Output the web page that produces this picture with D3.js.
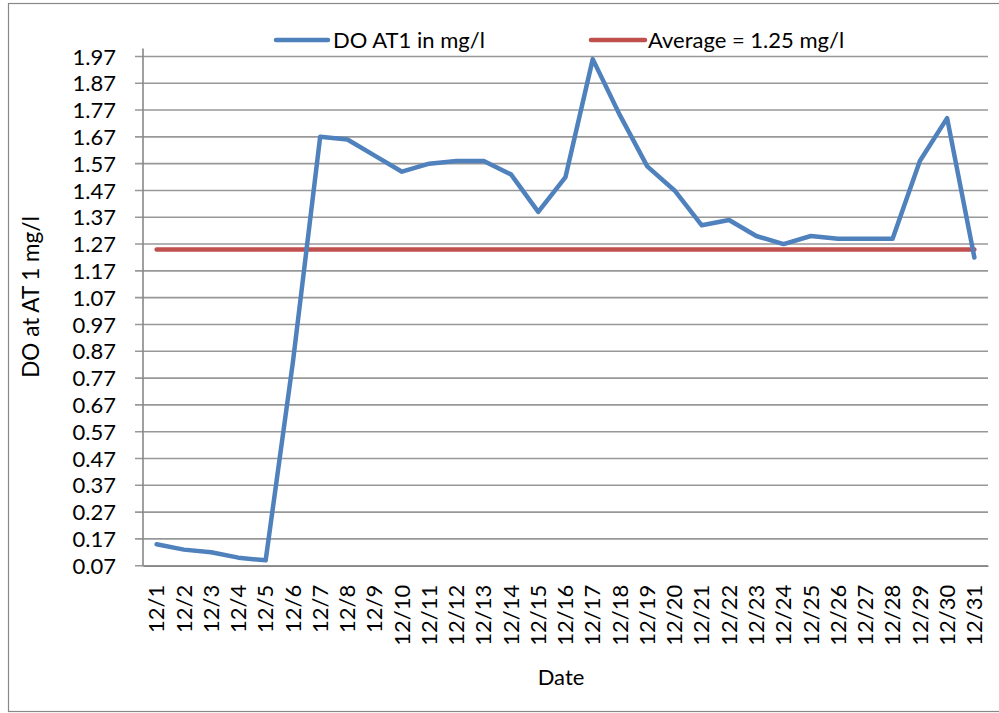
<!DOCTYPE html>
<html><head><meta charset="utf-8">
<script src="https://cdn.jsdelivr.net/npm/d3@7"></script>
<style>body{margin:0;background:#fff;} text{font-family:Lato,"Open Sans",sans-serif;fill:#000;}</style>
</head><body>
<svg id="c" width="999" height="713"></svg>
<script>
const dates = ["12/1","12/2","12/3","12/4","12/5","12/6","12/7","12/8","12/9","12/10","12/11","12/12","12/13","12/14","12/15","12/16","12/17","12/18","12/19","12/20","12/21","12/22","12/23","12/24","12/25","12/26","12/27","12/28","12/29","12/30","12/31"];
const doValues = [0.15,0.13,0.12,0.10,0.09,0.83,1.67,1.66,1.60,1.54,1.57,1.58,1.58,1.53,1.39,1.52,1.96,1.75,1.56,1.47,1.34,1.36,1.30,1.27,1.30,1.29,1.29,1.29,1.58,1.74,1.22];
const average = 1.25;
const yTicks = [0.07,0.17,0.27,0.37,0.47,0.57,0.67,0.77,0.87,0.97,1.07,1.17,1.27,1.37,1.47,1.57,1.67,1.77,1.87,1.97];
const seriesNames = ["DO AT1 in mg/l","Average = 1.25 mg/l"];
const colors = ["#4F81BD","#C0504D"];

const svg = d3.select("#c");
const L=143, R=988, T=48.4, B=565.7;
svg.append("rect").attr("x",8.5).attr("y",3.5).attr("width",1000).attr("height",708).attr("fill","#fff").attr("stroke","#888").attr("stroke-width",1.2);

const x = d3.scaleBand().domain(dates).range([L,R]);
const y = d3.scaleLinear().domain([0.07,2.0]).range([B,T]);

// gridlines
svg.append("g").selectAll("line").data(yTicks).join("line")
  .attr("x1",L-8).attr("x2",R).attr("y1",d=>y(d)).attr("y2",d=>y(d))
  .attr("stroke","#989898").attr("stroke-width",1.6);

// y axis
const ya = svg.append("g").attr("transform",`translate(${L},0)`)
  .call(d3.axisLeft(y).tickValues(yTicks).tickFormat(d3.format(".2f")).tickSize(0).tickPadding(27));
ya.select(".domain").remove();
ya.selectAll("text").style("font-size","22px").attr("dy","0.35em");
svg.append("line").attr("x1",L).attr("x2",L).attr("y1",T).attr("y2",B).attr("stroke","#888").attr("stroke-width",1.6);

// x axis
const xa = svg.append("g").attr("transform",`translate(0,${B})`)
  .call(d3.axisBottom(x).tickSize(0));
xa.select(".domain").attr("stroke","#888").attr("stroke-width",1.6);
xa.selectAll("text").style("font-size","22px")
  .attr("transform","rotate(-90)").attr("text-anchor","end")
  .attr("x",-19).attr("y",0).attr("dy","0.35em");

// average line
svg.append("path")
  .attr("d", d3.line()([[x(dates[0])+x.bandwidth()/2, y(average)],[x(dates[dates.length-1])+x.bandwidth()/2, y(average)]]))
  .attr("stroke",colors[1]).attr("stroke-width",4.5).attr("fill","none").attr("stroke-linecap","round");

// DO line
const line = d3.line().x((d,i)=>x(dates[i])+x.bandwidth()/2).y(d=>y(d));
svg.append("path").datum(doValues).attr("d",line)
  .attr("stroke",colors[0]).attr("stroke-width",4.5).attr("fill","none").attr("stroke-linejoin","round").attr("stroke-linecap","round");

// axis titles
svg.append("text").attr("transform","translate(39,297) rotate(-90)").attr("text-anchor","middle")
  .style("font-size","22.5px").text("DO at AT 1 mg/l");
svg.append("text").attr("x",561).attr("y",685).attr("text-anchor","middle").style("font-size","22px").text("Date");

// legend
const leg = [{x1:276,x2:328,tx:333},{x1:591,x2:645,tx:648}];
leg.forEach((l,i)=>{
  svg.append("line").attr("x1",l.x1).attr("x2",l.x2).attr("y1",40).attr("y2",40)
    .attr("stroke",colors[i]).attr("stroke-width",4.5).attr("stroke-linecap","round");
  svg.append("text").attr("x",l.tx).attr("y",40).attr("dy","0.35em").style("font-size","22px").text(seriesNames[i]);
});
</script>
</body></html>
